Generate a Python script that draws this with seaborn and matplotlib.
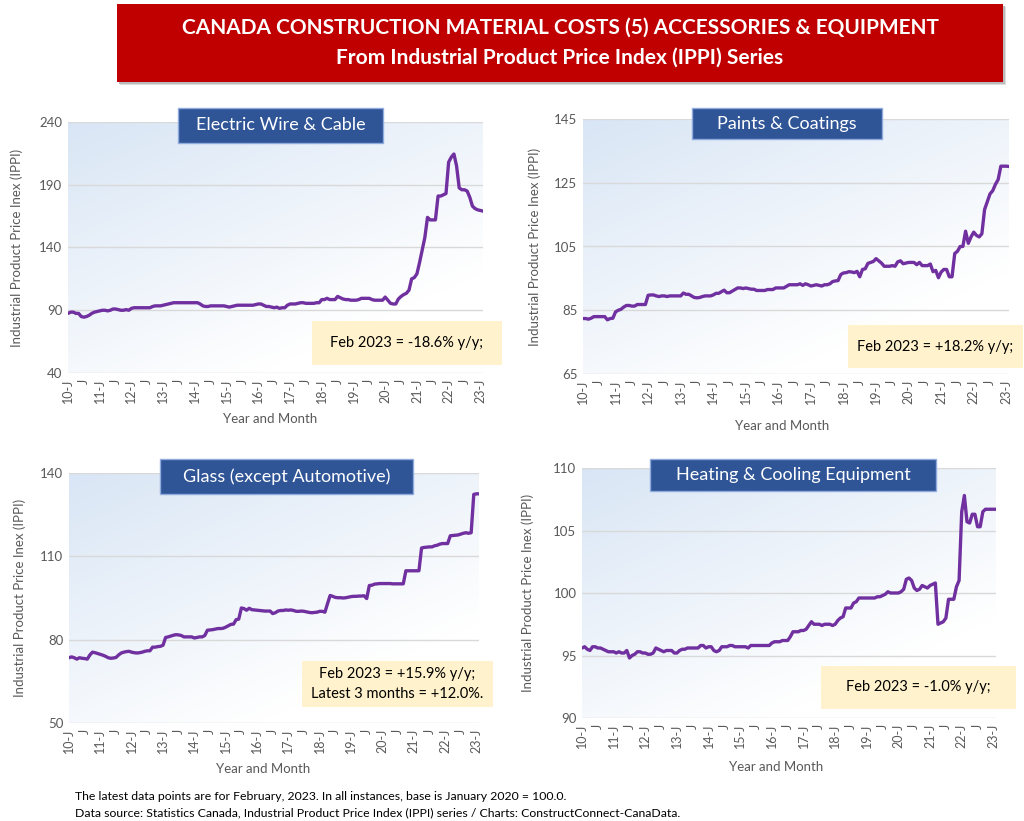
import numpy as np
import pandas as pd
import matplotlib
matplotlib.use("Agg")
import matplotlib.pyplot as plt
from matplotlib.patches import Rectangle
import seaborn as sns

# monthly IPPI, Jan 2010 .. Feb 2023 (one row per year)
wire_cable = [
    87.5, 88.5, 88.5, 87.5, 87.5, 85, 84.5, 85, 86, 87.5, 88.5, 89,
    89.5, 90, 90, 89.5, 90, 91, 91, 90.5, 90, 90, 90.5, 90,
    91.5, 92, 92, 92, 92, 92, 92, 92, 93, 93.5, 93.5, 93.5,
    94, 94.5, 95, 95.5, 96, 96, 96, 96, 96, 96, 96, 96,
    96, 96, 95, 93.5, 93, 93, 93.5, 93.5, 93.5, 93.5, 93.5, 93.5,
    93, 92.5, 93, 93.5, 94, 94, 94, 94, 94, 94, 94, 94.5,
    95, 95, 94, 93, 93, 92.5, 92, 92.5, 91.5, 92, 92, 94,
    95, 95, 95, 95.5, 96, 96, 95.5, 95.5, 95.5, 95.5, 96, 96,
    98.5, 98.5, 99.5, 98.5, 98.5, 98.5, 101, 100, 99, 98.5, 98.5, 98,
    98, 98, 98.5, 99.5, 99.5, 99.5, 99.5, 98.5, 98, 98, 98, 98,
    100.5, 98, 95.5, 95, 95, 99, 101, 102.5, 103.5, 106, 115, 116,
    119, 128, 138, 148, 164, 162, 162, 162, 181, 181, 182, 183,
    208, 212, 214.5, 205, 187.5, 186, 186, 185, 180, 173, 171, 170,
    169.5, 169,
]
paints = [
    82.4, 82.4, 82.2, 82.5, 83, 83, 83, 83, 83, 82, 82.4, 82.5,
    84.5, 85, 85.3, 86, 86.5, 86.5, 86.3, 86.3, 86.8, 86.8, 86.8, 86.8,
    89.7, 89.8, 89.8, 89.5, 89.3, 89.5, 89.5, 89.3, 89.5, 89.5, 89.5, 89.5,
    89.5, 90.4, 90, 90, 89.5, 89, 88.9, 89, 89.3, 89.5, 89.5, 89.5,
    89.8, 90.3, 90.3, 90.8, 91.3, 90.5, 90.5, 91, 91.5, 92, 92, 91.8,
    92, 91.8, 91.6, 91.6, 91.2, 91.2, 91.2, 91.2, 91.5, 91.5, 91.5, 92,
    92, 92, 92, 92.5, 93, 93, 93, 93, 93.3, 92.8, 93.3, 93,
    92.6, 92.8, 93, 92.8, 92.6, 93, 93, 93.3, 94, 94.2, 94.3, 96.2,
    96.7, 96.8, 97.1, 97, 96.8, 97.2, 95.5, 97.8, 98, 99.7, 100, 100.3,
    101.2, 100.5, 99.8, 98.8, 98.8, 98.8, 99, 98.8, 100.2, 100.5, 99.6, 99.8,
    100, 100, 100, 99.3, 100, 99, 99, 99, 99.5, 97.1, 97.5, 95.2,
    97, 97.8, 97.8, 95.5, 95.5, 102.8, 103.5, 105, 105, 109.8, 106, 108,
    109.5, 108.5, 108, 109, 116.6, 119, 121.5, 122.5, 124.5, 126, 130.2, 130.2,
    130.2, 130.1,
]
glass = [
    73.5, 73.8, 73.5, 73, 73.5, 73.3, 73.2, 73, 74.5, 75.5, 75.3, 75,
    74.7, 74.4, 74, 73.5, 73.3, 73.4, 73.6, 74.5, 75.2, 75.5, 75.7, 75.8,
    75.5, 75.3, 75.2, 75.3, 75.5, 75.8, 76, 76, 77.3, 77.3, 77.5, 77.6,
    78, 80.8, 81, 81.3, 81.6, 81.8, 81.7, 81.5, 81, 81, 81, 81,
    80.6, 80.8, 81, 81, 81.5, 83.4, 83.5, 83.6, 83.8, 84, 84, 84.1,
    84.5, 85, 85.5, 85.6, 87.2, 87.4, 91.4, 91.2, 90.6, 91.3, 90.8, 90.7,
    90.6, 90.5, 90.4, 90.3, 90.3, 90.3, 89.4, 89.7, 90.3, 90.5, 90.5, 90.7,
    90.6, 90.7, 90.5, 90.2, 90.2, 90.3, 90.2, 90, 89.8, 89.7, 89.8, 89.9,
    90.2, 90.2, 89.9, 93, 95.9, 95.6, 95.2, 95.1, 95.1, 95, 95.1, 95.3,
    95.5, 95.6, 95.6, 95.7, 95.7, 95.8, 94.8, 99.5, 99.6, 100, 100.1, 100.2,
    100.2, 100.2, 100.2, 100.2, 100.1, 100.1, 100.1, 100.1, 100.1, 104.8, 104.8, 104.8,
    104.8, 104.8, 104.8, 113, 113.2, 113.3, 113.4, 113.4, 113.8, 114, 114.4, 114.6,
    114.6, 114.6, 117.4, 117.5, 117.6, 117.7, 118, 118.3, 118.5, 118.3, 118.5, 132.3,
    132.5, 132.5,
]
heating = [
    95.6, 95.7, 95.5, 95.4, 95.7, 95.7, 95.6, 95.6, 95.5, 95.4, 95.3, 95.3,
    95.3, 95.2, 95.3, 95.2, 95.2, 95.4, 94.8, 95, 95.1, 95.3, 95.3, 95.2,
    95.2, 95.1, 95.1, 95.2, 95.6, 95.5, 95.4, 95.3, 95.4, 95.4, 95.4, 95.2,
    95.2, 95.4, 95.5, 95.5, 95.6, 95.6, 95.6, 95.6, 95.6, 95.8, 95.8, 95.6,
    95.7, 95.7, 95.4, 95.3, 95.4, 95.7, 95.7, 95.7, 95.8, 95.8, 95.7, 95.7,
    95.7, 95.7, 95.7, 95.6, 95.8, 95.8, 95.8, 95.8, 95.8, 95.8, 95.8, 95.8,
    96, 96.1, 96.1, 96.1, 96.2, 96.2, 96.2, 96.5, 96.9, 96.9, 96.9, 97,
    97, 97.1, 97.4, 97.7, 97.5, 97.5, 97.5, 97.4, 97.5, 97.5, 97.5, 97.4,
    97.5, 97.8, 98, 98.1, 98.8, 98.8, 98.8, 99.2, 99.3, 99.6, 99.6, 99.6,
    99.6, 99.6, 99.6, 99.6, 99.7, 99.7, 99.8, 99.9, 100.1, 100, 100, 100,
    100, 100.1, 100.3, 101.1, 101.2, 101, 100.4, 100.2, 100.3, 100.6, 100.5, 100.4,
    100.6, 100.7, 100.8, 97.5, 97.6, 97.7, 98, 99.5, 99.5, 99.5, 100.5, 101,
    106.5, 107.8, 105.7, 105.6, 106.3, 106.3, 105.3, 105.3, 106.5, 106.7, 106.7, 106.7,
    106.7, 106.7,
]

years = list(range(2010, 2024))
tick_labels = []
for y in years:
    tick_labels.append(f"{y % 100}-J")
    if y < 2023:
        tick_labels.append("J")

titles = ["Electric Wire & Cable", "Paints & Coatings",
          "Glass (except Automotive)", "Heating & Cooling Equipment"]
notes = ["Feb 2023 = -18.6% y/y;", "Feb 2023 = +18.2% y/y;",
         "Feb 2023 = +15.9% y/y;\nLatest 3 months = +12.0%.", "Feb 2023 = -1.0% y/y;"]
y_ticks = [[40, 90, 140, 190, 240], [65, 85, 105, 125, 145],
           [50, 80, 110, 140], [90, 95, 100, 105, 110]]
series = [wire_cable, paints, glass, heating]

sns.set_style("white")
plt.rcParams["font.family"] = ["Lato", "DejaVu Sans"]

W, H = 1024, 821
fig = plt.figure(figsize=(W / 100, H / 100), dpi=100)


def px_rect(x0, y0, x1, y1):
    # pixel box (top-left origin) -> figure fraction rect
    return [x0 / W, 1 - y1 / H, (x1 - x0) / W, (y1 - y0) / H]


def box(x0, y0, x1, y1, fc, ec="none", lw=0, z=5):
    r = px_rect(x0, y0, x1, y1)
    fig.patches.append(Rectangle((r[0], r[1]), r[2], r[3], transform=fig.transFigure,
                                 facecolor=fc, edgecolor=ec, linewidth=lw, zorder=z))


# header with a soft shadow
box(120, 7, 1006, 85, "#DDDDDD", z=1)
box(119, 6, 1005, 84, "#BBBBBB", z=1)
box(117, 4, 1003, 82, "#C00000", z=2)
fig.text(560 / W, 1 - 28 / H, "CANADA CONSTRUCTION MATERIAL COSTS (5) ACCESSORIES & EQUIPMENT",
         ha="center", va="center", color="white", fontsize=15, fontweight="bold", zorder=3)
fig.text(560 / W, 1 - 58 / H, "From Industrial Product Price Index (IPPI) Series",
         ha="center", va="center", color="white", fontsize=15, fontweight="bold", zorder=3)

panels = [
    dict(plot=(68, 122, 483, 373), head=(178, 108, 383, 143), note=(312, 321, 502, 365),
         xlab=(270, 419), ylab=17),
    dict(plot=(583, 119, 1009, 374), head=(692, 108, 882, 139), note=(848, 325, 1023, 368),
         xlab=(782, 426), ylab=535),
    dict(plot=(69, 473, 479, 723), head=(160, 459, 413, 494), note=(302, 661, 493, 707),
         xlab=(263, 769), ylab=20),
    dict(plot=(582, 468, 996, 718), head=(650, 459, 936, 491), note=(821, 666, 1016, 709),
         xlab=(776, 767), ylab=528),
]

# diagonal blue-to-white gradient for the plot areas
gx, gy = np.meshgrid(np.linspace(0, 1, 200), np.linspace(0, 1, 200))
t = np.clip(0.55 * gx + 0.75 * gy, 0, 1)
c0 = np.array([0.85, 0.90, 0.96])
c1 = np.array([1.0, 1.0, 1.0])
grad = c0[None, None, :] * (1 - t[..., None]) + c1[None, None, :] * t[..., None]

for i, p in enumerate(panels):
    vals = series[i]
    df = pd.DataFrame({"month": np.arange(len(vals)), "ippi": vals})
    ax = fig.add_axes(px_rect(*p["plot"]))
    lo, hi = y_ticks[i][0], y_ticks[i][-1]
    ax.imshow(grad, extent=(0, len(vals) - 1, lo, hi), aspect="auto", zorder=0, origin="upper")
    sns.lineplot(data=df, x="month", y="ippi", ax=ax, color="#7030A0", linewidth=2.4, zorder=3)
    ax.set_xlim(0, len(vals) - 1)
    ax.set_ylim(lo, hi)
    ax.set_yticks(y_ticks[i])
    ax.set_yticklabels([str(v) for v in y_ticks[i]], fontsize=9.5, color="#595959")
    ax.set_xticks(np.arange(0, 157, 6))
    ax.set_xticklabels(tick_labels, rotation=90, fontsize=9, color="#595959")
    ax.tick_params(length=0, pad=4)
    ax.grid(axis="y", color="#D9D9D9", linewidth=1, zorder=1)
    ax.set_axisbelow(False)
    for s in ax.spines.values():
        s.set_visible(False)
    ax.set_xlabel("")
    ax.set_ylabel("")
    yc = (p["plot"][1] + p["plot"][3]) / 2
    fig.text(p["ylab"] / W, 1 - yc / H, "Industrial Product Price Inex (IPPI)", rotation=90,
             ha="center", va="center", fontsize=9.5, color="#595959")
    fig.text(p["xlab"][0] / W, 1 - p["xlab"][1] / H, "Year and Month",
             ha="center", va="center", fontsize=9.5, color="#595959")

    hx0, hy0, hx1, hy1 = p["head"]
    box(hx0, hy0, hx1, hy1, "#2F5597", ec="#8FAADC", lw=1, z=6)
    fig.text((hx0 + hx1) / 2 / W, 1 - (hy0 + hy1) / 2 / H, titles[i],
             ha="center", va="center", color="white", fontsize=13, zorder=7)

    nx0, ny0, nx1, ny1 = p["note"]
    box(nx0, ny0, nx1, ny1, "#FFF2CC", z=6)
    fig.text((nx0 + nx1) / 2 / W, 1 - (ny0 + ny1) / 2 / H, notes[i],
             ha="center", va="center", color="black", fontsize=10.5, zorder=7, linespacing=1.5)

fig.text(75 / W, 1 - 796 / H,
         "The latest data points are for February, 2023. In all instances, base is January 2020 = 100.0.",
         ha="left", va="center", fontsize=8.8, color="black")
fig.text(75 / W, 1 - 813 / H,
         "Data source: Statistics Canada, Industrial Product Price Index (IPPI) series / Charts: ConstructConnect-CanaData.",
         ha="left", va="center", fontsize=8.8, color="black")

fig.savefig("out.png", dpi=100)
